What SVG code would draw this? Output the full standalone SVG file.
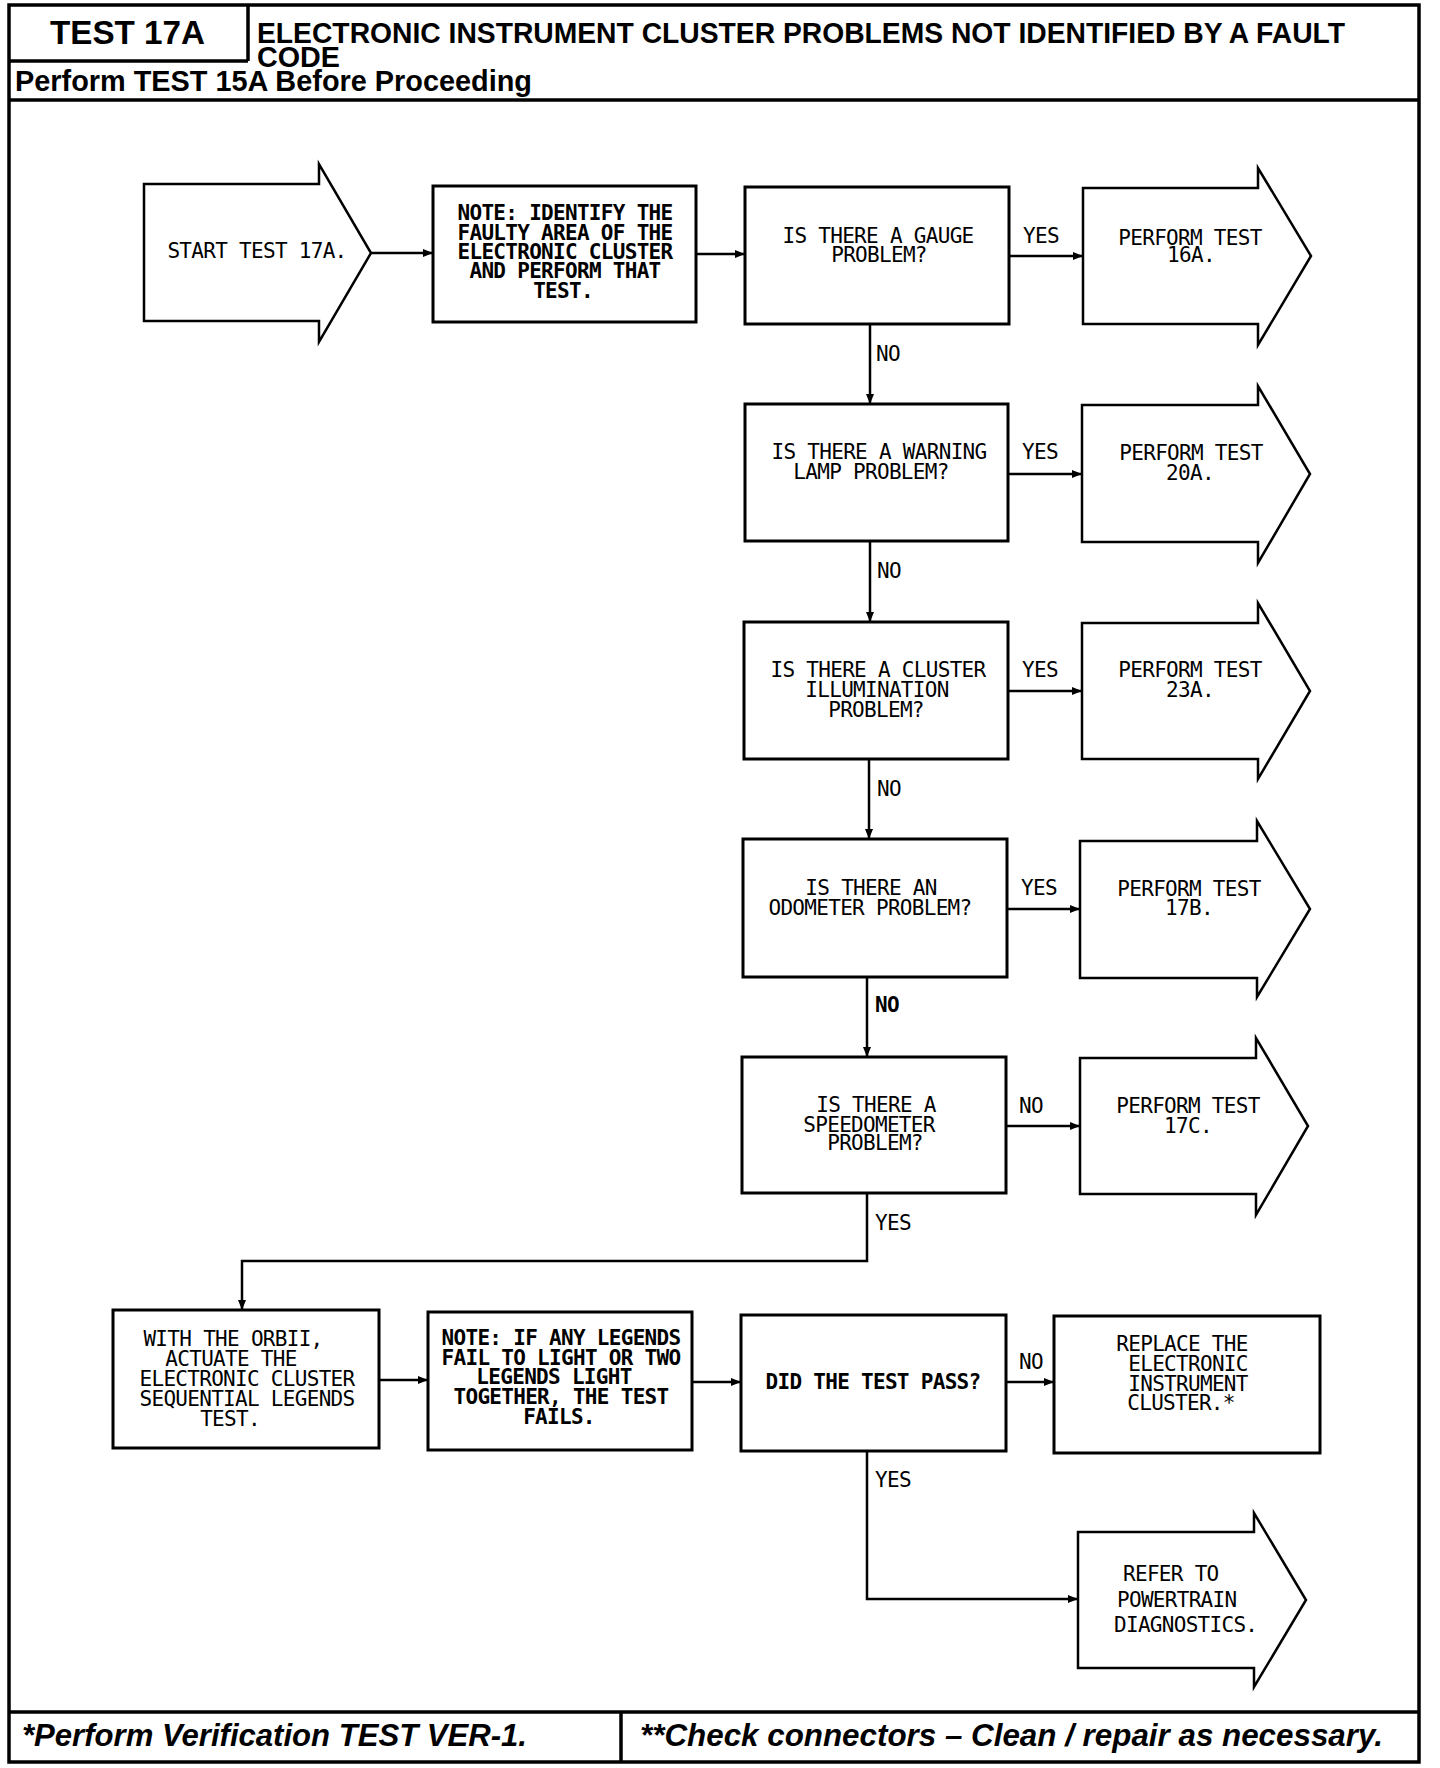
<svg xmlns="http://www.w3.org/2000/svg" width="1440" height="1768" viewBox="0 0 1440 1768">
<defs>
<marker id="ah" markerUnits="userSpaceOnUse" markerWidth="12" markerHeight="10" refX="10" refY="5" orient="auto">
<path d="M0,1 L10,5 L0,9 Z" fill="#000"/>
</marker>
<style>
.frame{fill:none;stroke:#000;stroke-width:3.5}
.box{fill:#fff;stroke:#000;stroke-width:3}
.big{fill:#fff;stroke:#000;stroke-width:2.5;stroke-linejoin:miter}
.con{fill:none;stroke:#000;stroke-width:2.5}
.t{font-family:"DejaVu Sans Mono","Liberation Mono",monospace;font-size:21px;letter-spacing:-0.7px;fill:#000}
.m{text-anchor:middle}
.b{font-weight:bold}
.h{font-family:"Liberation Sans",Arial,sans-serif;font-weight:bold;fill:#000}
.f{font-family:"Liberation Sans",Arial,sans-serif;font-weight:bold;font-style:italic;fill:#000}
</style>
</defs>
<rect width="1440" height="1768" fill="#fff"/>

<g id="frame">
<rect class="frame" x="9" y="5" width="1410" height="1757"/>
<line class="frame" x1="248" y1="5" x2="248" y2="61"/>
<line class="frame" x1="9" y1="61" x2="248" y2="61"/>
<line class="frame" x1="9" y1="100" x2="1419" y2="100"/>
<line class="frame" x1="9" y1="1712" x2="1419" y2="1712"/>
<line class="frame" x1="621" y1="1712" x2="621" y2="1762"/>
<text class="h" x="50" y="44" font-size="34" textLength="155" lengthAdjust="spacingAndGlyphs">TEST 17A</text>
<text class="h" x="257" y="43" font-size="29" textLength="1088" lengthAdjust="spacingAndGlyphs">ELECTRONIC INSTRUMENT CLUSTER PROBLEMS NOT IDENTIFIED BY A FAULT</text>
<text class="h" x="257" y="67" font-size="29" textLength="83" lengthAdjust="spacingAndGlyphs">CODE</text>
<text class="h" x="15" y="91" font-size="29" textLength="517" lengthAdjust="spacingAndGlyphs">Perform TEST 15A Before Proceeding</text>
<text class="f" x="22" y="1746" font-size="31" textLength="505" lengthAdjust="spacingAndGlyphs">*Perform Verification TEST VER-1.</text>
<text class="f" x="640" y="1746" font-size="31" textLength="743" lengthAdjust="spacingAndGlyphs">**Check connectors – Clean / repair as necessary.</text>
</g>

<g id="connectors">
<line class="con" x1="371" y1="253" x2="433" y2="253" marker-end="url(#ah)"/>
<line class="con" x1="696" y1="254" x2="745" y2="254" marker-end="url(#ah)"/>
<line class="con" x1="1009" y1="256" x2="1083" y2="256" marker-end="url(#ah)"/>
<line class="con" x1="870" y1="324" x2="870" y2="404" marker-end="url(#ah)"/>
<line class="con" x1="1008" y1="474" x2="1082" y2="474" marker-end="url(#ah)"/>
<line class="con" x1="870" y1="541" x2="870" y2="622" marker-end="url(#ah)"/>
<line class="con" x1="1008" y1="691" x2="1082" y2="691" marker-end="url(#ah)"/>
<line class="con" x1="869" y1="759" x2="869" y2="839" marker-end="url(#ah)"/>
<line class="con" x1="1007" y1="909" x2="1080" y2="909" marker-end="url(#ah)"/>
<line class="con" x1="867" y1="977" x2="867" y2="1057" marker-end="url(#ah)"/>
<line class="con" x1="1006" y1="1126" x2="1080" y2="1126" marker-end="url(#ah)"/>
<polyline class="con" points="867,1193 867,1261 242,1261 242,1310" marker-end="url(#ah)"/>
<line class="con" x1="379" y1="1380" x2="428" y2="1380" marker-end="url(#ah)"/>
<line class="con" x1="692" y1="1382" x2="741" y2="1382" marker-end="url(#ah)"/>
<line class="con" x1="1006" y1="1382" x2="1054" y2="1382" marker-end="url(#ah)"/>
<polyline class="con" points="867,1451 867,1599 1078,1599" marker-end="url(#ah)"/>
<text class="t" x="1023" y="243">YES</text>
<text class="t" x="876" y="361">NO</text>
<text class="t" x="1022" y="459">YES</text>
<text class="t" x="877" y="578">NO</text>
<text class="t" x="1022" y="677">YES</text>
<text class="t" x="877" y="796">NO</text>
<text class="t" x="1021" y="895">YES</text>
<text class="t b" x="875" y="1012">NO</text>
<text class="t" x="1019" y="1113">NO</text>
<text class="t" x="875" y="1230">YES</text>
<text class="t" x="1019" y="1369">NO</text>
<text class="t" x="875" y="1487">YES</text>
</g>

<g id="start">
<polygon class="big" points="144,184 319,184 319,164 371,253 319,342 319,321 144,321"/>
<text class="t m" x="257" y="258">START TEST 17A.</text>
</g>

<g id="note1">
<rect class="box" x="433" y="186" width="263" height="136"/>
<text class="t m b" x="565" y="220">NOTE: IDENTIFY THE</text>
<text class="t m b" x="565" y="239.5">FAULTY AREA OF THE</text>
<text class="t m b" x="565" y="259">ELECTRONIC CLUSTER</text>
<text class="t m b" x="565" y="278">AND PERFORM THAT</text>
<text class="t m b" x="563" y="298">TEST.</text>
</g>

<g id="gauge">
<rect class="box" x="745" y="187" width="264" height="137"/>
<text class="t m" x="878" y="243">IS THERE A GAUGE</text>
<text class="t m" x="879" y="262">PROBLEM?</text>
</g>

<g id="test16a">
<polygon class="big" points="1083,188 1258,188 1258,168 1311,256 1258,345 1258,324 1083,324"/>
<text class="t m" x="1190" y="245">PERFORM TEST</text>
<text class="t m" x="1191" y="262">16A.</text>
</g>

<g id="warning">
<rect class="box" x="745" y="404" width="263" height="137"/>
<text class="t m" x="879" y="459">IS THERE A WARNING</text>
<text class="t m" x="871" y="479">LAMP PROBLEM?</text>
</g>

<g id="test20a">
<polygon class="big" points="1082,405 1258,405 1258,386 1310,474 1258,563 1258,542 1082,542"/>
<text class="t m" x="1191" y="460">PERFORM TEST</text>
<text class="t m" x="1190" y="480">20A.</text>
</g>

<g id="cluster">
<rect class="box" x="744" y="622" width="264" height="137"/>
<text class="t m" x="878" y="677">IS THERE A CLUSTER</text>
<text class="t m" x="877" y="697">ILLUMINATION</text>
<text class="t m" x="876" y="717">PROBLEM?</text>
</g>

<g id="test23a">
<polygon class="big" points="1082,623 1258,623 1258,603 1310,691 1258,779 1258,759 1082,759"/>
<text class="t m" x="1190" y="677">PERFORM TEST</text>
<text class="t m" x="1190" y="697">23A.</text>
</g>

<g id="odometer">
<rect class="box" x="743" y="839" width="264" height="138"/>
<text class="t m" x="871" y="895">IS THERE AN</text>
<text class="t m" x="870" y="915">ODOMETER PROBLEM?</text>
</g>

<g id="test17b">
<polygon class="big" points="1080,841 1257,841 1257,821 1310,909 1257,997 1257,978 1080,978"/>
<text class="t m" x="1189" y="896">PERFORM TEST</text>
<text class="t m" x="1189" y="915">17B.</text>
</g>

<g id="speedometer">
<rect class="box" x="742" y="1057" width="264" height="136"/>
<text class="t m" x="876" y="1112">IS THERE A</text>
<text class="t m" x="869" y="1132">SPEEDOMETER</text>
<text class="t m" x="875" y="1150">PROBLEM?</text>
</g>

<g id="test17c">
<polygon class="big" points="1080,1058 1256,1058 1256,1038 1308,1126 1256,1215 1256,1194 1080,1194"/>
<text class="t m" x="1188" y="1113">PERFORM TEST</text>
<text class="t m" x="1188" y="1133">17C.</text>
</g>

<g id="orbii">
<rect class="box" x="113" y="1310" width="266" height="138"/>
<text class="t m" x="233" y="1346">WITH THE ORBII,</text>
<text class="t m" x="231" y="1366">ACTUATE THE</text>
<text class="t m" x="247" y="1386">ELECTRONIC CLUSTER</text>
<text class="t m" x="247" y="1406">SEQUENTIAL LEGENDS</text>
<text class="t m" x="230" y="1426">TEST.</text>
</g>

<g id="note2">
<rect class="box" x="428" y="1312" width="264" height="138"/>
<text class="t m b" x="561" y="1345">NOTE: IF ANY LEGENDS</text>
<text class="t m b" x="561" y="1365">FAIL TO LIGHT OR TWO</text>
<text class="t m b" x="554" y="1384">LEGENDS LIGHT</text>
<text class="t m b" x="561" y="1404">TOGETHER, THE TEST</text>
<text class="t m b" x="559" y="1424">FAILS.</text>
</g>

<g id="didpass">
<rect class="box" x="741" y="1315" width="265" height="136"/>
<text class="t m b" x="873" y="1389">DID THE TEST PASS?</text>
</g>

<g id="replace">
<rect class="box" x="1054" y="1316" width="266" height="137"/>
<text class="t m" x="1182" y="1351">REPLACE THE</text>
<text class="t m" x="1188" y="1371">ELECTRONIC</text>
<text class="t m" x="1188" y="1391">INSTRUMENT</text>
<text class="t m" x="1181" y="1410">CLUSTER.*</text>
</g>

<g id="powertrain">
<polygon class="big" points="1078,1532 1254,1532 1254,1513 1306,1600 1254,1687 1254,1668 1078,1668"/>
<text class="t" x="1123" y="1581">REFER TO</text>
<text class="t" x="1117" y="1607">POWERTRAIN</text>
<text class="t" x="1114" y="1632">DIAGNOSTICS.</text>
</g>
</svg>
